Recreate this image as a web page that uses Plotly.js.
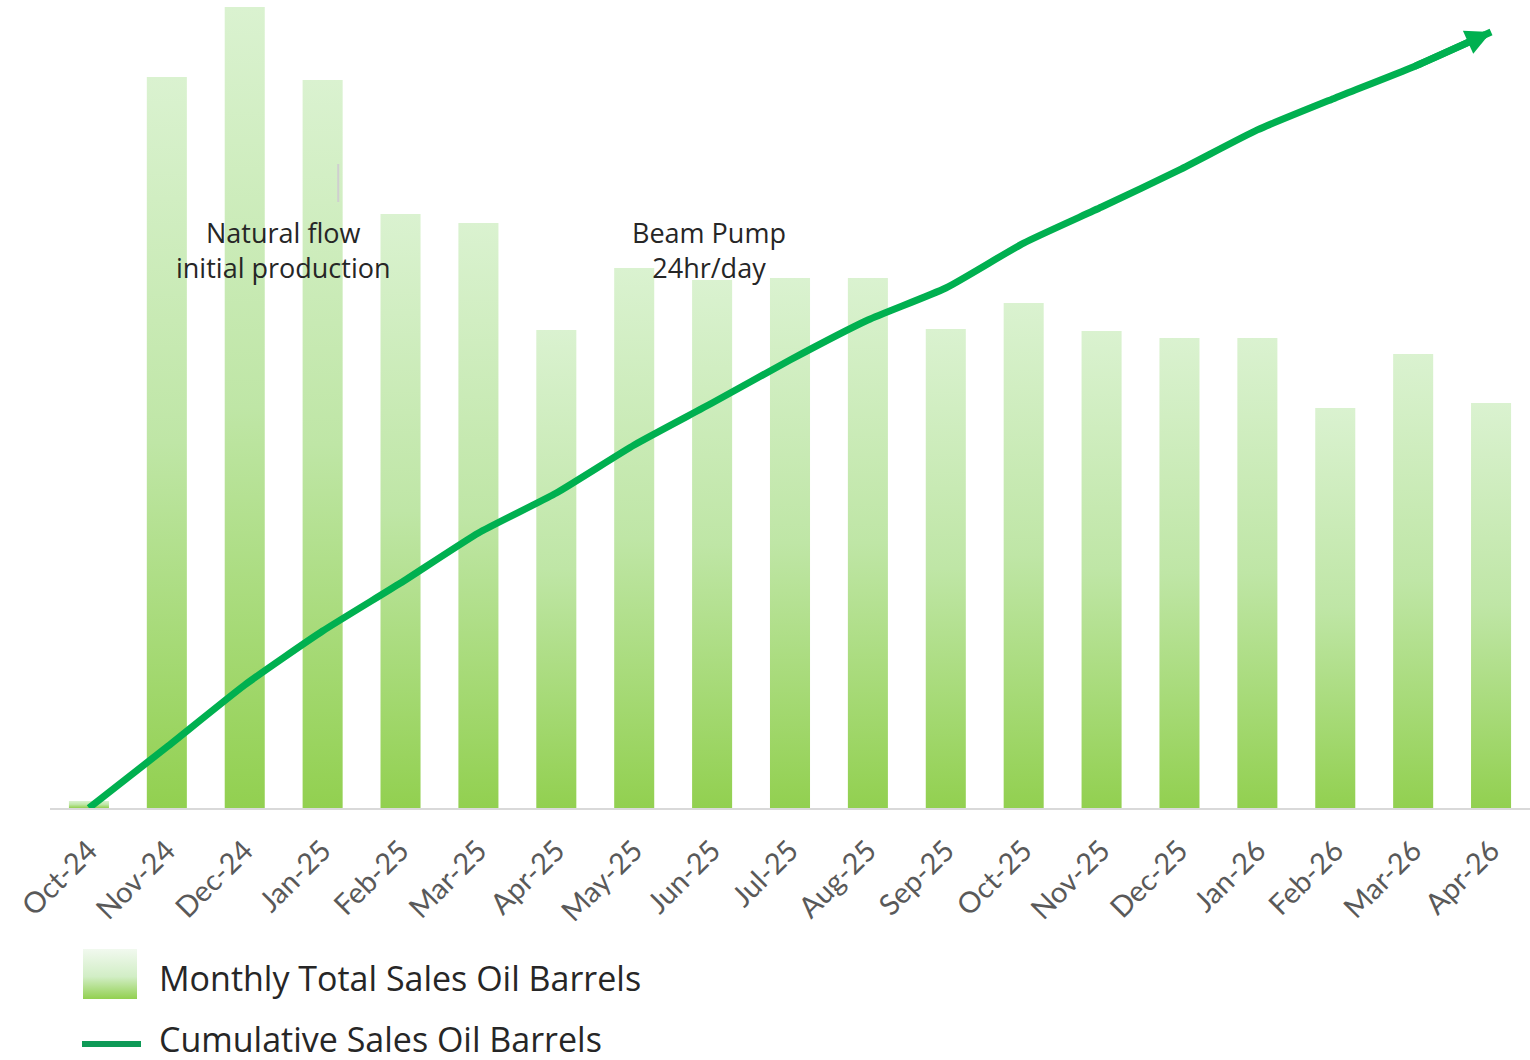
<!DOCTYPE html>
<html>
<head>
<meta charset="utf-8">
<script src="https://cdn.plot.ly/plotly-3.0.1.min.js"></script>
<style>
  html, body { margin: 0; padding: 0; background: #ffffff; }
  #chart { width: 1530px; height: 1060px; }
</style>
</head>
<body>
<div id="chart"></div>
<script>
// ---- data ----
const months = ['Oct-24', 'Nov-24', 'Dec-24', 'Jan-25', 'Feb-25', 'Mar-25', 'Apr-25', 'May-25', 'Jun-25', 'Jul-25',
                'Aug-25', 'Sep-25', 'Oct-25', 'Nov-25', 'Dec-25', 'Jan-26', 'Feb-26', 'Mar-26', 'Apr-26'];
const monthlyBarrels = [35, 3655, 4005, 3640, 2970, 2925, 2390, 2700, 2640, 2650,
                        2650, 2395, 2525, 2385, 2350, 2350, 2000, 2270, 2025];
const cumulativeBarrels = [0, 3810, 7690, 11060, 14060, 17190, 19690, 22690, 25310, 28000,
                           30500, 32500, 35310, 37560, 39880, 42380, 44380, 46310, 48500];
const barSeriesName = 'Monthly Total Sales Oil Barrels';
const lineSeriesName = 'Cumulative Sales Oil Barrels';
const phaseLabels = ['Natural flow<br>initial production', 'Beam Pump<br>24hr/day'];
const phaseLabelX = [2.5, 7.96];

// ---- styling ----
const TEXT_FONT = '"Open Sans", "Noto Sans", sans-serif';
const TICK_FONT = 'Lato, "Open Sans", sans-serif';
const barBottom = '#92d050';
const barTop = '#daf2d0';
const lineGreen = '#00b050';
const halfWidth = 0.257;

const traces = [];
monthlyBarrels.forEach((v, i) => {
  traces.push({
    type: 'scatter',
    x: [i - halfWidth, i + halfWidth, i + halfWidth, i - halfWidth],
    y: [0, 0, v, v],
    mode: 'lines',
    line: { width: 0 },
    fill: 'toself',
    fillgradient: { type: 'vertical', colorscale: [[0, barBottom], [0.5, '#bfe6a6'], [1, barTop]] },
    name: months[i],
    showlegend: false,
    hoverinfo: 'skip'
  });
});

const last = months.length - 1;
traces.push({
  type: 'scatter',
  x: months.map((_, i) => i),
  y: cumulativeBarrels,
  yaxis: 'y2',
  mode: 'lines',
  name: lineSeriesName,
  line: { color: lineGreen, width: 7, shape: 'spline', smoothing: 0.5, backoff: 12 },
  showlegend: false,
  hoverinfo: 'skip'
});

// plot area: x 50..1530, y 0..808 (pixels)
const PL = 50, PW = 1480, PH = 808;
const px = (x) => (x - PL) / PW;
const py = (y) => (PH - y) / PH;

const swatchSvg = '<svg xmlns="http://www.w3.org/2000/svg" width="54" height="50" viewBox="0 0 54 50" preserveAspectRatio="none">' +
  '<defs><linearGradient id="g" x1="0" y1="0" x2="0" y2="1">' +
  '<stop offset="0" stop-color="#f1f9ef"/><stop offset="0.55" stop-color="#d2eec6"/><stop offset="1" stop-color="#92d050"/>' +
  '</linearGradient></defs><rect x="0" y="0" width="54" height="50" fill="url(#g)"/></svg>';

const annotations = phaseLabels.map((t, k) => ({
  x: phaseLabelX[k], y: 2790, xref: 'x', yref: 'y',
  text: t, showarrow: false, align: 'center',
  font: { family: TEXT_FONT, size: 27, color: '#262626' }
}));
// arrow head at the end of the cumulative line (final segment of the series)
annotations.push({
  x: last, y: cumulativeBarrels[last], xref: 'x', yref: 'y2',
  ax: last - 1, ay: cumulativeBarrels[last - 1], axref: 'x', ayref: 'y2',
  text: '', showarrow: true, arrowhead: 2, arrowsize: 0.72, arrowwidth: 7, arrowcolor: lineGreen
});
annotations.push({
  xref: 'paper', yref: 'paper', x: px(157), y: py(978), xanchor: 'left', yanchor: 'middle',
  text: barSeriesName, showarrow: false,
  font: { family: TEXT_FONT, size: 34, color: '#262626' }
});
annotations.push({
  xref: 'paper', yref: 'paper', x: px(157), y: py(1039), xanchor: 'left', yanchor: 'middle',
  text: lineSeriesName, showarrow: false,
  font: { family: TEXT_FONT, size: 34, color: '#262626' }
});

const layout = {
  width: 1530,
  height: 1060,
  margin: { l: PL, r: 0, t: 0, b: 252 },
  paper_bgcolor: '#ffffff',
  plot_bgcolor: '#ffffff',
  showlegend: false,
  xaxis: {
    range: [-0.5, months.length - 0.5],
    tickmode: 'array',
    tickvals: months.map((_, i) => i),
    ticktext: months,
    tickangle: -45,
    tickfont: { family: TICK_FONT, size: 29, color: '#595959' },
    ticklabelstandoff: 12,
    showgrid: false,
    zeroline: false,
    showline: true,
    linecolor: '#d9d9d9',
    linewidth: 2,
    ticks: '',
    fixedrange: true
  },
  yaxis: { range: [0, 4040], visible: false, showgrid: false, zeroline: false, fixedrange: true },
  yaxis2: { range: [0, 50500], overlaying: 'y', visible: false, showgrid: false, zeroline: false, fixedrange: true },
  annotations: annotations,
  shapes: [
    { type: 'line', xref: 'x', yref: 'y', x0: 3.2, x1: 3.2, y0: 3030, y1: 3220,
      line: { color: '#cfcfcf', width: 2 } },
    { type: 'line', xref: 'paper', yref: 'paper', x0: px(82), x1: px(141), y0: py(1044), y1: py(1044),
      line: { color: '#0e9a57', width: 6 } }
  ],
  images: [{
    source: 'data:image/svg+xml;charset=utf-8,' + encodeURIComponent(swatchSvg),
    xref: 'paper', yref: 'paper', x: px(83), y: py(949),
    sizex: 54 / PW, sizey: 50 / PH, sizing: 'stretch', xanchor: 'left', yanchor: 'top', layer: 'above'
  }]
};

Plotly.newPlot('chart', traces, layout, { displayModeBar: false, staticPlot: true });
</script>
</body>
</html>
